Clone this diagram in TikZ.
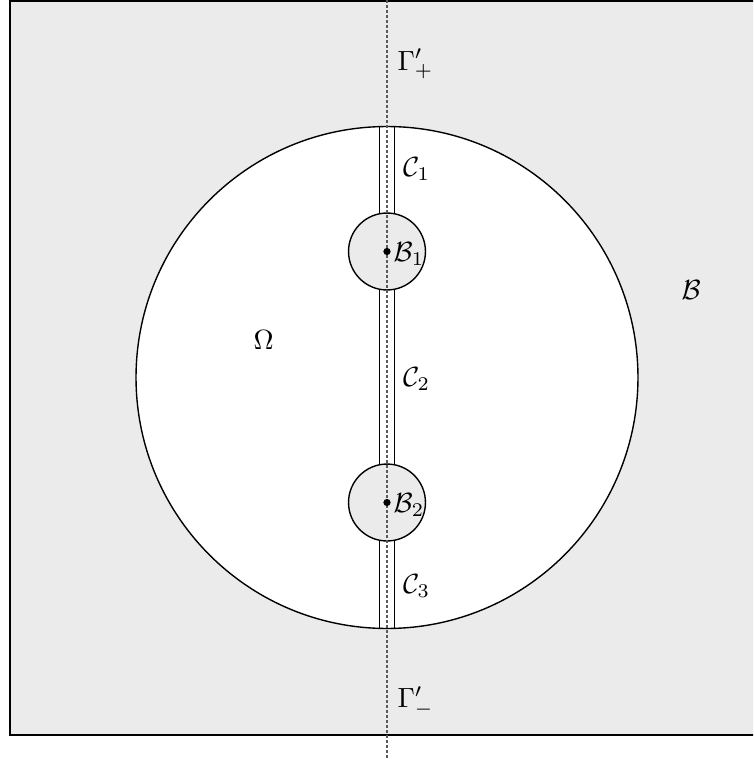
\documentclass[tikz,border=0pt]{standalone}
\usepackage{amsmath}
\definecolor{bgg}{RGB}{235,235,235}
\definecolor{dashg}{RGB}{90,90,90}
\begin{document}
\begin{tikzpicture}[x=0.36pt,y=-0.36pt,
  region/.style={draw=black, line width=0.5pt},
  bigdisk/.style={circle, region, fill=white, minimum size=180.7pt, inner sep=0pt},
  smalldisk/.style={circle, region, fill=bgg, minimum size=27.7pt, inner sep=0pt},
  axisline/.style={draw=dashg, line width=0.45pt, dash pattern=on 1.1pt off 0.7pt},
  lab/.style={inner sep=0pt, anchor=base west},
  centre/.style={circle, fill=black, minimum size=2.6pt, inner sep=0pt}]
\useasboundingbox (0,0) rectangle (753,759);
\begin{scope}
\clip (0,0) rectangle (753,759);
\filldraw[fill=bgg, draw=black, line width=0.6pt] (10,1) rectangle (780,735);
\end{scope}
\node[bigdisk] (omega) at (387,377.5) {};
\draw[region] (379.5,126.5) -- (379.5,628.5);
\draw[region] (394.5,126.5) -- (394.5,628.5);
\node[smalldisk] (b1) at (387,251.5) {};
\node[smalldisk] (b2) at (387,502.5) {};
\coordinate (top) at (387,0);
\coordinate (bot) at (387,759);
\draw[axisline] (top) -- (bot);
\node[centre] (p1) at (b1.center) {};
\node[centre] (p2) at (b2.center) {};
\node[lab] (gp) at (397,70) {$\Gamma'_+$};
\node[lab] (c1) at (402.5,176) {$\mathcal{C}_1$};
\node[lab] (lb1) at (393,261) {$\mathcal{B}_1$};
\node[lab] (c2) at (402.5,386) {$\mathcal{C}_2$};
\node[lab] (lb2) at (393,512) {$\mathcal{B}_2$};
\node[lab] (c3) at (402.5,593) {$\mathcal{C}_3$};
\node[lab] (gm) at (397,707.7) {$\Gamma'_-$};
\node[lab] (lb) at (681,299) {$\mathcal{B}$};
\node[lab] (lo) at (253,349) {$\Omega$};
\end{tikzpicture}
\end{document}
